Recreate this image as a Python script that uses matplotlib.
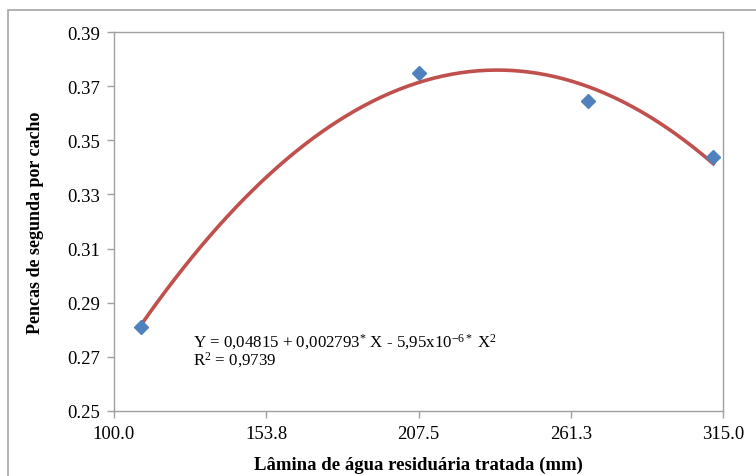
import numpy as np
import matplotlib.pyplot as plt
from matplotlib.patches import Rectangle

# data
lamina = [109.5, 207.5, 267.3, 311.6]
pencas = [0.281, 0.375, 0.3645, 0.3437]
xticks = [100.0, 153.8, 207.5, 261.3, 315.0]
yticks = [0.25, 0.27, 0.29, 0.31, 0.33, 0.35, 0.37, 0.39]

plt.rcParams.update({
    'font.family': 'serif',
    'font.serif': ['Liberation Serif', 'DejaVu Serif'],
    'font.size': 13,
    'mathtext.fontset': 'custom',
    'mathtext.rm': 'Liberation Serif',
    'mathtext.it': 'Liberation Serif:italic',
    'mathtext.bf': 'Liberation Serif:bold',
})

fig = plt.figure(figsize=(7.56, 4.77), dpi=100)
ax = fig.add_axes([114 / 756, 1 - 412 / 477, 609 / 756, 379 / 477])

# chart area border (Excel style), cut by the image edges
fig.patches.append(Rectangle((8 / 756, -0.1), 1.2, 1 - 11 / 477 + 0.1,
                             transform=fig.transFigure, fill=False,
                             edgecolor='#a6a6a6', linewidth=1.2))

# quadratic trend line (least squares, as the spreadsheet does)
coef = np.polyfit(lamina, pencas, 2)
xs = np.linspace(min(lamina), max(lamina), 200)
ax.plot(xs, np.polyval(coef, xs), color='#C0504D', linewidth=2.6, zorder=2)

ax.plot(lamina, pencas, linestyle='none', marker='D', markersize=7.5,
        color='#4F81BD', zorder=3)

ax.set_xlim(100, 315)
ax.set_ylim(0.25, 0.39)
ax.set_xticks(xticks)
ax.set_xticklabels([f'{v:.1f}' for v in xticks])
ax.set_yticks(yticks)
ax.set_yticklabels([f'{v:.2f}' for v in yticks])

for s in ax.spines.values():
    s.set_color('#a0a0a0')
    s.set_linewidth(1.0)
ax.tick_params(direction='out', length=5, width=1, color='#a0a0a0',
               labelsize=13.5, pad=5)

ax.set_xlabel('Lâmina de água residuária tratada (mm)', fontweight='bold',
              fontsize=13.5)
ax.xaxis.set_label_coords(0.5, -(465 - 412) / 379, transform=ax.transAxes)
ax.set_ylabel('Pencas de segunda por cacho', fontweight='bold',
              fontsize=13)
ax.yaxis.set_label_coords(-(114 - 36) / 609, 0.5, transform=ax.transAxes)
ax.xaxis.label.set_va('center')
ax.yaxis.label.set_va('center')

fig.text(193 / 756, 1 - 342 / 477,
         r'Y = 0,04815 + 0,002793$^{*}$ X - 5,95x10$^{-6*}$ X$^{2}$',
         fontsize=12.2, va='center', ha='left')
fig.text(193 / 756, 1 - 360 / 477, r'R$^{2}$ = 0,9739',
         fontsize=12.2, va='center', ha='left')

fig.savefig('out.png', dpi=100)
